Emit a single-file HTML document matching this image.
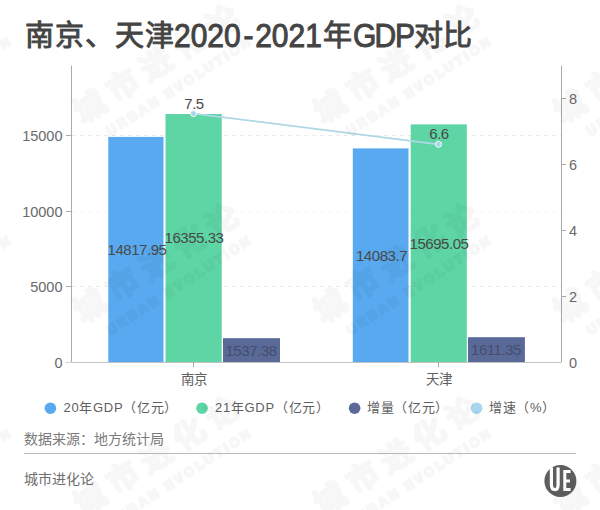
<!DOCTYPE html>
<html lang="zh-CN"><head><meta charset="utf-8">
<style>
html,body{margin:0;padding:0;background:#fff;}
body{width:600px;height:510px;position:relative;overflow:hidden;font-family:"Liberation Sans",sans-serif;}
svg{position:absolute;left:0;top:0;}
text{font-family:"Liberation Sans",sans-serif;}
</style></head><body>
<svg width="600" height="510" viewBox="0 0 600 510">
  <!-- title -->
  <g font-size="30" fill="#444" stroke="#444" stroke-width="0.9">
    <text x="24.8" y="45.6" font-size="29" letter-spacing="1">南京、天津</text>
    <text x="323" y="45.6" font-size="29">年</text>
    <text x="413.6" y="45.6" font-size="29" letter-spacing="0.6">对比</text>
    <g transform="translate(0,46.5) scale(1,1.1)">
      <text y="0"><tspan x="174">2020</tspan><tspan x="243.4">-</tspan><tspan x="255.2">2021</tspan><tspan x="353">G</tspan><tspan x="374.5">D</tspan><tspan x="395">P</tspan></text>
    </g>
  </g>
  <!-- grid lines -->
  <g stroke="#ebebeb" stroke-width="1" stroke-dasharray="4,4">
    <line x1="72" y1="135.5" x2="561" y2="135.5"/>
    <line x1="72" y1="211.5" x2="561" y2="211.5" stroke="#f7f7f7"/>
    <line x1="72" y1="286.5" x2="561" y2="286.5"/>
  </g>
  <!-- bars -->
  <g>
    <rect x="108.3" y="136.9" width="55.2" height="225.1" fill="#58a9ef"/>
    <rect x="165.5" y="114" width="56.2" height="248" fill="#5dd5a4"/>
    <rect x="223" y="338.2" width="57" height="23.8" fill="#596998"/>
    <rect x="352.8" y="148.4" width="55.7" height="213.6" fill="#58a9ef"/>
    <rect x="410.7" y="124.4" width="56.1" height="237.6" fill="#5dd5a4"/>
    <rect x="468" y="337.2" width="56.9" height="24.8" fill="#596998"/>
  </g>
  <!-- axes -->
  <g stroke="#aaaaaa" stroke-width="1">
    <line x1="71.5" y1="65.5" x2="71.5" y2="362"/>
    <line x1="561.5" y1="65.5" x2="561.5" y2="362"/>
    <line x1="71.5" y1="362.5" x2="561.5" y2="362.5" stroke="#c2c2c2"/>
    <line x1="66" y1="135.5" x2="71.5" y2="135.5"/>
    <line x1="66" y1="211.5" x2="71.5" y2="211.5"/>
    <line x1="66" y1="286.5" x2="71.5" y2="286.5"/>
    <line x1="66" y1="362.5" x2="71.5" y2="362.5" stroke="#d0d0d0"/>
    <line x1="561.5" y1="98.5" x2="566" y2="98.5"/>
    <line x1="561.5" y1="164.5" x2="566" y2="164.5"/>
    <line x1="561.5" y1="230.5" x2="566" y2="230.5"/>
    <line x1="561.5" y1="296.5" x2="566" y2="296.5"/>
    
    <line x1="193.5" y1="362" x2="193.5" y2="367"/>
    <line x1="438.5" y1="362" x2="438.5" y2="367"/>
  </g>
  <!-- axis labels -->
  <g font-size="14.5" fill="#6a6a6a" text-anchor="end">
    <text x="62.5" y="141">15000</text>
    <text x="62.5" y="216.5">10000</text>
    <text x="62.5" y="291.5">5000</text>
    <text x="62.5" y="367.5">0</text>
  </g>
  <g font-size="14.5" fill="#6a6a6a" text-anchor="start">
    <text x="569" y="104">8</text>
    <text x="569" y="170">6</text>
    <text x="569" y="236">4</text>
    <text x="569" y="302">2</text>
    <text x="569" y="368">0</text>
  </g>
  <g font-size="13.5" fill="#606060" text-anchor="middle">
    <text x="194" y="384">南京</text>
    <text x="439" y="384">天津</text>
  </g>
  <!-- line -->
  <line x1="193.5" y1="113.6" x2="438.5" y2="144.3" stroke="#b0d8e4" stroke-width="1.8"/>
  <circle cx="193.5" cy="113.6" r="3" fill="#a3d6ec" stroke="#fff" stroke-width="1"/>
  <circle cx="438.5" cy="144.3" r="3" fill="#a3d6ec" stroke="#fff" stroke-width="1"/>
  <!-- value labels -->
  <g font-size="15" fill="#4a4a4a" text-anchor="middle" letter-spacing="-0.45">
    <text x="137" y="255.3">14817.95</text>
    <text x="194" y="243.4">16355.33</text>
    <text x="251" y="355.7" fill="#454e6c">1537.38</text>
    <text x="381.5" y="260.9">14083.7</text>
    <text x="439" y="248.75">15695.05</text>
    <text x="496" y="355.1" fill="#454e6c">1611.35</text>
    <text x="194" y="109">7.5</text>
    <text x="439" y="139">6.6</text>
  </g>
  <!-- legend -->
  <circle cx="50.4" cy="408.2" r="5.8" fill="#58a9ef"/>
  <circle cx="202" cy="408.2" r="5.8" fill="#5dd5a4"/>
  <circle cx="354.6" cy="408.2" r="5.8" fill="#596998"/>
  <circle cx="476.6" cy="408.2" r="5.8" fill="#a8d6ef"/>
  <g font-size="13" fill="#5e5e5e" letter-spacing="0.7">
    <text x="63.5" y="412">20年GDP（亿元）</text>
    <text x="215" y="412">21年GDP（亿元）</text>
    <text x="367" y="412">增量（亿元）</text>
    <text x="489" y="412">增速（%）</text>
  </g>
  <!-- source -->
  <text x="24" y="443.5" font-size="14" fill="#7a7a7a">数据来源：地方统计局</text>
  <line x1="24" y1="453.5" x2="576" y2="453.5" stroke="#bdbdbd" stroke-width="1"/>
  <text x="24" y="483.8" font-size="14" fill="#6e6e6e">城市进化论</text>
  <!-- logo -->
  <circle cx="560.4" cy="481" r="16" fill="#5e5e5e"/>
  <path d="M551.4 467.5 V484.5 Q551.4 489.6 555 489.6 Q558.1 489.6 558.1 484.5 V467.5" fill="none" stroke="#fff" stroke-width="3.2"/>
  <path d="M563.3 470 H570.6 V473 H566.3 V479.6 H570 V482.5 H566.3 V488 H570.6 V491 H563.3 Z" fill="#fff"/>
  <!-- watermark -->
  <g fill="#000" stroke="#000" stroke-width="2.5" stroke-linejoin="round" font-weight="bold" opacity="0.032">
    <g transform="translate(-150,107) rotate(-33)"><text x="-16" y="11" font-size="31" letter-spacing="8.5">城市进化论</text><text x="1" y="35.5" font-size="13" letter-spacing="3">URBAN EVOLUTION</text></g>
    <g transform="translate(-150,306) rotate(-33)"><text x="-16" y="11" font-size="31" letter-spacing="8.5">城市进化论</text><text x="1" y="35.5" font-size="13" letter-spacing="3">URBAN EVOLUTION</text></g>
    <g transform="translate(-150,499) rotate(-33)"><text x="-16" y="11" font-size="31" letter-spacing="8.5">城市进化论</text><text x="1" y="35.5" font-size="13" letter-spacing="3">URBAN EVOLUTION</text></g>
    <g transform="translate(90,107) rotate(-33)"><text x="-16" y="11" font-size="31" letter-spacing="8.5">城市进化论</text><text x="1" y="35.5" font-size="13" letter-spacing="3">URBAN EVOLUTION</text></g>
    <g transform="translate(90,306) rotate(-33)"><text x="-16" y="11" font-size="31" letter-spacing="8.5">城市进化论</text><text x="1" y="35.5" font-size="13" letter-spacing="3">URBAN EVOLUTION</text></g>
    <g transform="translate(90,499) rotate(-33)"><text x="-16" y="11" font-size="31" letter-spacing="8.5">城市进化论</text><text x="1" y="35.5" font-size="13" letter-spacing="3">URBAN EVOLUTION</text></g>
    <g transform="translate(330,107) rotate(-33)"><text x="-16" y="11" font-size="31" letter-spacing="8.5">城市进化论</text><text x="1" y="35.5" font-size="13" letter-spacing="3">URBAN EVOLUTION</text></g>
    <g transform="translate(330,306) rotate(-33)"><text x="-16" y="11" font-size="31" letter-spacing="8.5">城市进化论</text><text x="1" y="35.5" font-size="13" letter-spacing="3">URBAN EVOLUTION</text></g>
    <g transform="translate(330,499) rotate(-33)"><text x="-16" y="11" font-size="31" letter-spacing="8.5">城市进化论</text><text x="1" y="35.5" font-size="13" letter-spacing="3">URBAN EVOLUTION</text></g>
    <g transform="translate(570,107) rotate(-33)"><text x="-16" y="11" font-size="31" letter-spacing="8.5">城市进化论</text><text x="1" y="35.5" font-size="13" letter-spacing="3">URBAN EVOLUTION</text></g>
    <g transform="translate(570,306) rotate(-33)"><text x="-16" y="11" font-size="31" letter-spacing="8.5">城市进化论</text><text x="1" y="35.5" font-size="13" letter-spacing="3">URBAN EVOLUTION</text></g>
    <g transform="translate(570,499) rotate(-33)"><text x="-16" y="11" font-size="31" letter-spacing="8.5">城市进化论</text><text x="1" y="35.5" font-size="13" letter-spacing="3">URBAN EVOLUTION</text></g>
  </g>
</svg>
</body></html>
